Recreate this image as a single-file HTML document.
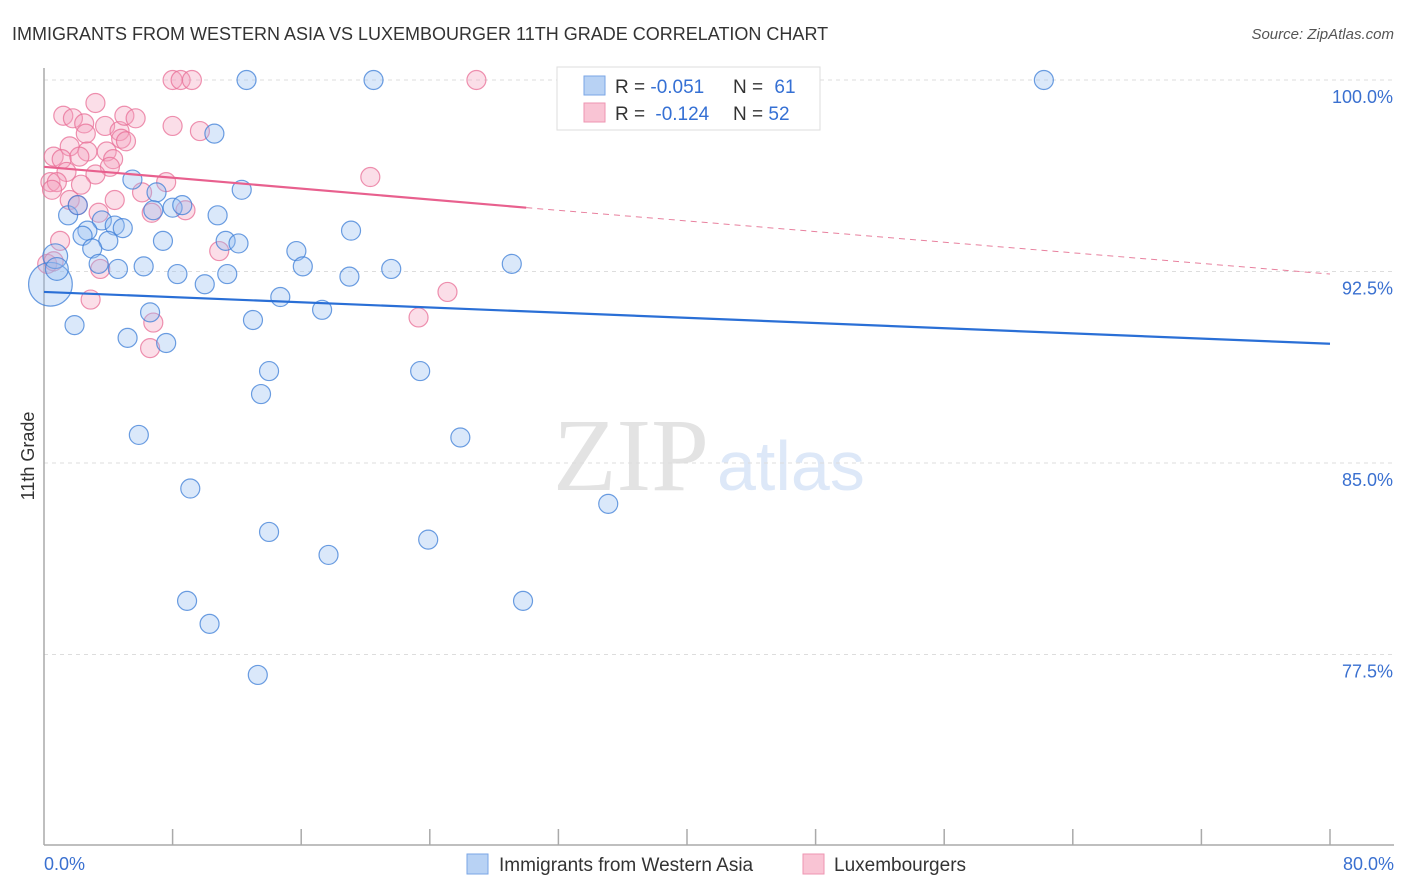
<!DOCTYPE html>
<html><head><meta charset="utf-8"><style>
body{margin:0;background:#fff;font-family:"Liberation Sans",sans-serif;}
svg{display:block}
</style></head><body>
<svg id="chart" width="1406" height="892" xmlns="http://www.w3.org/2000/svg" font-family="Liberation Sans, sans-serif">
<text x="12" y="40" font-size="18" fill="#333">IMMIGRANTS FROM WESTERN ASIA VS LUXEMBOURGER 11TH GRADE CORRELATION CHART</text>
<text x="1394" y="39" font-size="15" fill="#555" text-anchor="end" font-style="italic">Source: ZipAtlas.com</text>
<g>
<text x="553" y="490" font-family="Liberation Serif, serif" font-size="104" fill="#e3e3e3">ZIP</text>
<text x="717" y="490" font-size="70" fill="#dde8f8">atlas</text>
</g>
<g id="grid"></g>
<g id="axes"></g>
<g id="marks"></g>
<g id="trends"></g>
<g>
<rect x="557" y="67" width="263" height="63" fill="#fff" stroke="#ddd"/>
<rect x="584" y="76" width="21" height="19" fill="#b8d2f4" stroke="#7aa6e6"/>
<rect x="584" y="103" width="21" height="19" fill="#f9c4d4" stroke="#ee95b2"/>
<text x="615" y="93" font-size="19" fill="#333">R = <tspan fill="#3570d4">-0.051</tspan></text>
<text x="733" y="93" font-size="19" fill="#333">N = <tspan fill="#3570d4" dx="6">61</tspan></text>
<text x="615" y="120" font-size="19" fill="#333">R = <tspan fill="#3570d4" dx="5">-0.124</tspan></text>
<text x="733" y="120" font-size="19" fill="#333">N = <tspan fill="#3570d4">52</tspan></text>
</g>
<g>
<rect x="467" y="854" width="21" height="20" fill="#b8d2f4" stroke="#7aa6e6"/>
<text x="499" y="871" font-size="19" fill="#333">Immigrants from Western Asia</text>
<rect x="803" y="854" width="21" height="20" fill="#f9c4d4" stroke="#ee95b2"/>
<text x="834" y="871" font-size="19" fill="#333">Luxembourgers</text>
</g>
<text transform="translate(34,456) rotate(-90)" font-size="18" fill="#333" text-anchor="middle">11th Grade</text>
</svg>
<script>
const yTicks=[100,92.5,85,77.5];
const yTickLabels=["100.0%","92.5%","85.0%","77.5%"];
const xTickLabels=["0.0%","80.0%"];
const blueX=[12.6,20.5,62.2,44.0,10.6,5.5,7.0,12.3,6.8,8.0,8.6,10.8,1.5,2.1,3.6,4.4,4.9,2.7,2.4,4.0,3.0,7.4,11.3,12.1,19.1,15.7,16.1,19.0,21.6,29.1,4.6,6.2,3.4,8.3,11.4,10.0,14.7,17.3,13.0,6.6,1.9,5.2,7.6,14.0,23.4,13.5,5.9,25.9,9.1,35.1,14.0,23.9,17.7,8.9,29.8,10.3,13.3,0.4,0.7,0.8];
const blueY=[100,100,100,100,97.9,96.1,95.6,95.7,94.9,95.0,95.1,94.7,94.7,95.1,94.5,94.3,94.2,94.1,93.9,93.7,93.4,93.7,93.7,93.6,94.1,93.3,92.7,92.3,92.6,92.8,92.6,92.7,92.8,92.4,92.4,92.0,91.5,91.0,90.6,90.9,90.4,89.9,89.7,88.6,88.6,87.7,86.1,86.0,84.0,83.4,82.3,82.0,81.4,79.6,79.6,78.7,76.7,92.0,93.1,92.6];
const blueSize=[1,1,1,1,1,1,1,1,1,1,1,1,1,1,1,1,1,1,1,1,1,1,1,1,1,1,1,1,1,1,1,1,1,1,1,1,1,1,1,1,1,1,1,1,1,1,1,1,1,1,1,1,1,1,1,1,1,2.3,1.3,1.2];
const pinkX=[8.0,8.5,9.2,26.9,3.2,1.2,1.8,2.5,2.6,3.8,4.7,5.0,5.7,8.0,9.7,4.8,5.1,1.6,2.7,3.9,0.6,1.1,2.2,4.3,4.1,1.4,3.2,0.4,0.8,0.5,2.3,1.6,4.4,6.1,7.6,20.3,3.4,6.7,8.8,2.1,1.0,3.5,10.9,2.9,6.8,6.6,25.1,23.3,0.2,0.6];
const pinkY=[100,100,100,100,99.1,98.6,98.5,98.3,97.9,98.2,98.0,98.6,98.5,98.2,98.0,97.7,97.6,97.4,97.2,97.2,97.0,96.9,97.0,96.9,96.6,96.4,96.3,96.0,96.0,95.7,95.9,95.3,95.3,95.6,96.0,96.2,94.8,94.8,94.9,95.1,93.7,92.6,93.3,91.4,90.5,89.5,91.7,90.7,92.8,92.9];
const blueTrend=[[0,91.7],[80,89.67]];
const pinkTrendSolid=[[0,96.6],[30,95.0]];
const pinkTrendDash=[[30,95.0],[80,92.4]];
const NS="http://www.w3.org/2000/svg";
const X0=44,X1=1330,YT=80,PX=191.5/7.5;
const sx=v=>X0+(X1-X0)*v/80;
const sy=v=>YT+(100-v)*PX;
function mk(tag,attrs,parent){const e=document.createElementNS(NS,tag);for(const k in attrs)e.setAttribute(k,attrs[k]);parent.appendChild(e);return e;}
const grid=document.getElementById('grid'),axes=document.getElementById('axes'),marks=document.getElementById('marks'),trends=document.getElementById('trends');
yTicks.forEach((t,i)=>{
 const l=mk('line',{x1:X0,x2:1394,y1:sy(t),y2:sy(t),stroke:'#ddd','stroke-dasharray':'4,4'},grid);
 
 
 const tx=mk('text',{x:1393,y:sy(t)+23,'font-size':18,fill:'#3a70d0','text-anchor':'end'},axes);
 tx.textContent=yTickLabels[i];
 
 
});
const ya=mk('line',{x1:X0,x2:X0,y1:68,y2:845,stroke:'#aaa','stroke-width':1.5},axes);


const xa=mk('line',{x1:X0,x2:1394,y1:845,y2:845,stroke:'#aaa','stroke-width':1.5},axes);


for(let v=8;v<=80;v+=8){const t=mk('line',{x1:sx(v),x2:sx(v),y1:829,y2:845,stroke:'#aaa','stroke-width':1.5},axes);
 
 }
[[0,'start',44],[80,'end',1394]].forEach((d,i)=>{const t=mk('text',{x:d[2],y:870,'font-size':18,fill:'#3a70d0','text-anchor':d[1]},axes);t.textContent=xTickLabels[i];
 
 });
pinkX.forEach((v,i)=>{const c=mk('circle',{cx:sx(v),cy:sy(pinkY[i]),r:9.5,fill:'rgba(244,160,190,0.35)',stroke:'rgba(232,110,150,0.75)','stroke-width':1.2},marks);
 
 });
blueX.forEach((v,i)=>{const c=mk('circle',{cx:sx(v),cy:sy(blueY[i]),r:9.5*blueSize[i],fill:'rgba(150,190,240,0.35)',stroke:'rgba(60,125,215,0.75)','stroke-width':1.2},marks);
 
 });
function line(p,st,w,dash,name){const l=mk('line',{x1:sx(p[0][0]),y1:sy(p[0][1]),x2:sx(p[1][0]),y2:sy(p[1][1]),stroke:st,'stroke-width':w},trends);if(dash)l.setAttribute('stroke-dasharray',dash);
 
 }
line(blueTrend,'#2a6fd6',2.2,null,'western-asia-trendline');
line(pinkTrendSolid,'#e8608e',2.2,null,'luxembourger-trendline');
line(pinkTrendDash,'#e8809e',1,'6,5','luxembourger-trendline-extension');
</script>
</body></html>
